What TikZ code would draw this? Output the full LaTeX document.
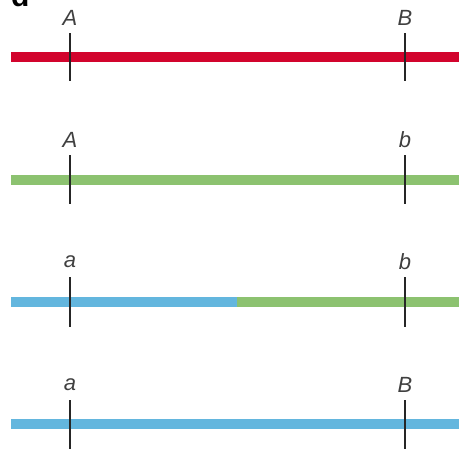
\documentclass[tikz,border=0pt]{standalone}
\usepackage{fontspec}
\setsansfont{Liberation Sans}
\definecolor{barred}{HTML}{D2042D}
\definecolor{bargreen}{HTML}{8CC270}
\definecolor{barblue}{HTML}{63B6DE}
\definecolor{ticklbl}{HTML}{404040}
\begin{document}
\begin{tikzpicture}[x=1pt,y=-1pt,
  bar/.style={line width=10pt},
  tick/.style={draw=black!85,line width=1.3pt},
  lbl/.style={font=\sffamily\itshape\fontsize{22}{22}\selectfont,text=ticklbl,inner sep=0pt}]
\useasboundingbox (0,0) rectangle (460,450);
\node[font=\sffamily\bfseries\fontsize{30}{30}\selectfont,anchor=base west,inner sep=0pt] (d) at (11,6) {d};
% row 1
\coordinate (r1l) at (11,57); \coordinate (r1r) at (459,57);
\draw[bar,barred] (r1l) -- (r1r);
\coordinate (t1at) at (70,33); \coordinate (t1ab) at (70,81);
\coordinate (t1bt) at (405,33); \coordinate (t1bb) at (405,81);
\draw[tick] (t1at) -- (t1ab); \draw[tick] (t1bt) -- (t1bb);
\node[lbl] (A1) at (70,18) {A}; \node[lbl] (B1) at (405,18) {B};
% row 2
\coordinate (r2l) at (11,180); \coordinate (r2r) at (459,180);
\draw[bar,bargreen] (r2l) -- (r2r);
\coordinate (t2at) at (70,155); \coordinate (t2ab) at (70,204);
\coordinate (t2bt) at (405,155); \coordinate (t2bb) at (405,204);
\draw[tick] (t2at) -- (t2ab); \draw[tick] (t2bt) -- (t2bb);
\node[lbl] (A2) at (70,140) {A}; \node[lbl] (b2) at (405,140) {b};
% row 3
\coordinate (r3l) at (11,302); \coordinate (r3m) at (237,302); \coordinate (r3r) at (459,302);
\draw[bar,barblue] (r3l) -- (r3m);
\draw[bar,bargreen] (r3m) -- (r3r);
\coordinate (t3at) at (70,277); \coordinate (t3ab) at (70,327);
\coordinate (t3bt) at (405,277); \coordinate (t3bb) at (405,327);
\draw[tick] (t3at) -- (t3ab); \draw[tick] (t3bt) -- (t3bb);
\node[lbl] (a3) at (70,262) {a}; \node[lbl] (b3) at (405,262) {b};
% row 4
\coordinate (r4l) at (11,424); \coordinate (r4r) at (459,424);
\draw[bar,barblue] (r4l) -- (r4r);
\coordinate (t4at) at (70,400); \coordinate (t4ab) at (70,449);
\coordinate (t4bt) at (405,400); \coordinate (t4bb) at (405,449);
\draw[tick] (t4at) -- (t4ab); \draw[tick] (t4bt) -- (t4bb);
\node[lbl] (a4) at (70,385) {a}; \node[lbl] (B4) at (405,385) {B};
\end{tikzpicture}
\end{document}
